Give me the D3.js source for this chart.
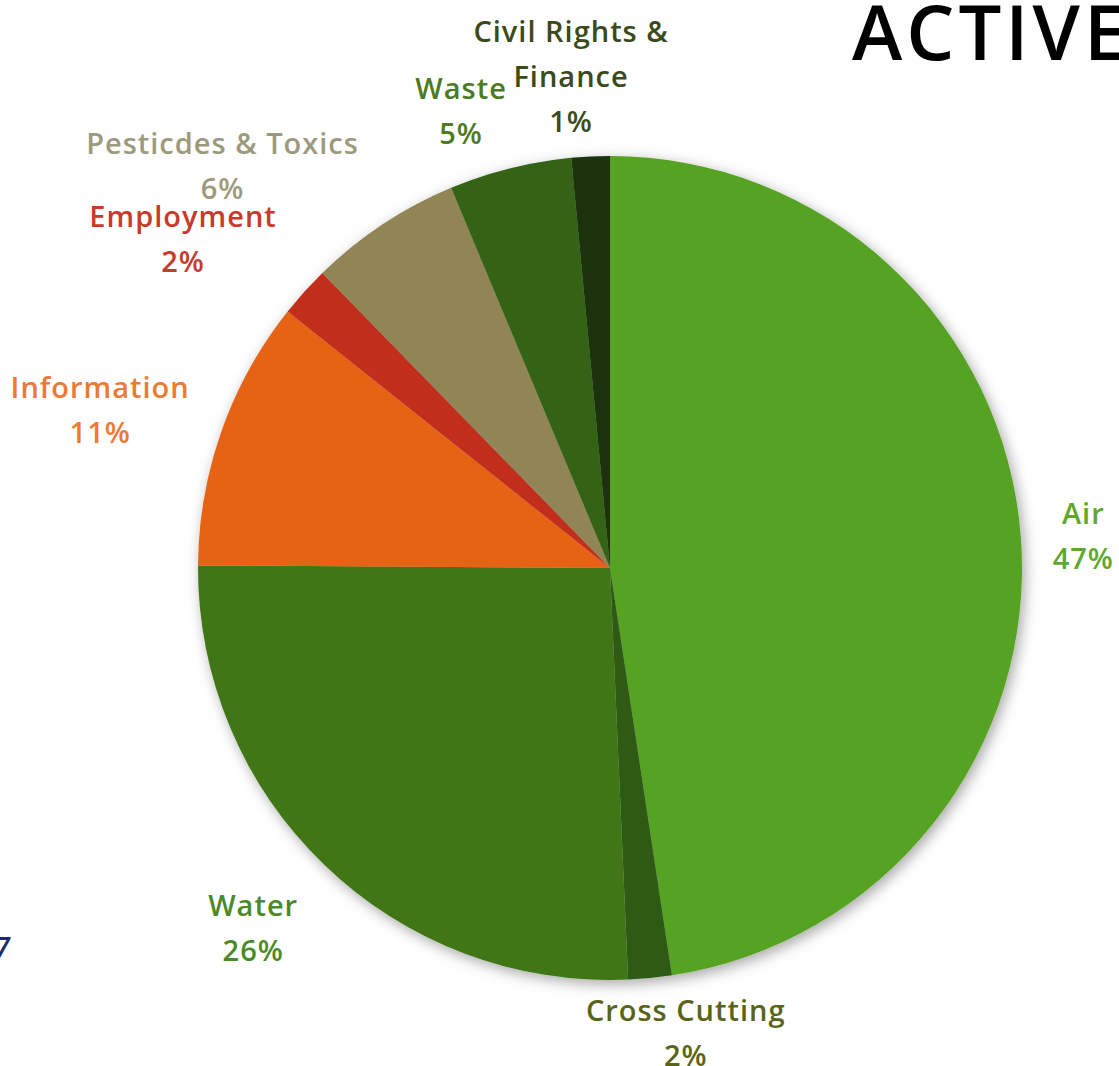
<!DOCTYPE html>
<html>
<head>
<meta charset="utf-8">
<script src="https://cdn.jsdelivr.net/npm/d3@7"></script>
<style>
  body { margin: 0; background: #fff; }
  svg { display: block; }
  text { font-family: "Open Sans", sans-serif; font-weight: 600; }
</style>
</head>
<body>
<script>
const categories = ["Air", "Cross Cutting", "Water", "Information", "Employment", "Pesticdes & Toxics", "Waste", "Civil Rights & Finance"];
const shares = [47.6, 1.7, 25.8, 10.6, 2.0, 6.0, 4.8, 1.5];
const pctLabels = ["47%", "2%", "26%", "11%", "2%", "6%", "5%", "1%"];
const labelLines = [["Air"], ["Cross Cutting"], ["Water"], ["Information"], ["Employment"], ["Pesticdes & Toxics"], ["Waste"], ["Civil Rights &", "Finance"]];

const sliceColors = ["#57a223", "#2d5a14", "#3f7619", "#e66418", "#c22f1a", "#918455", "#346317", "#1c330b"];
const textColors = ["#5ea82c", "#5a6418", "#4b8a26", "#ec7a34", "#c83a2a", "#9c9a7c", "#4c7a22", "#3a4a18"];
// label nudges, px (fine placement like Excel's best fit)
const nudge = [[12, 3], [24, -11], [-26, 15], [-18, 0], [-37, -10], [-74, -5], [-33, 5], [-14, 6]];

const W = 1119, H = 1066;
const cx = 610, cy = 568, R = 412;
const lineH = 45, fontSize = 29;

const svg = d3.select('body').append('svg')
  .attr('width', W)
  .attr('height', H);

// soft shadow round the pie
const defs = svg.append('defs');
const f = defs.append('filter').attr('id', 'shadow')
  .attr('x', '-10%').attr('y', '-10%').attr('width', '120%').attr('height', '120%');
f.append('feDropShadow')
  .attr('dx', 3).attr('dy', 4).attr('stdDeviation', 7)
  .attr('flood-color', '#000').attr('flood-opacity', 0.35);

const data = categories.map((c, i) => ({ name: c, value: shares[i], i }));

const pie = d3.pie().sort(null).value(d => d.value);
const arcs = pie(data);
const arc = d3.arc().innerRadius(0).outerRadius(R);

const g = svg.append('g').attr('transform', `translate(${cx},${cy})`);

g.append('g')
  .attr('filter', 'url(#shadow)')
  .selectAll('path')
  .data(arcs)
  .join('path')
  .attr('fill', d => sliceColors[d.data.i])
  .attr('d', arc);

// labels
const measure = svg.append('text').attr('font-size', fontSize)
  .attr('letter-spacing', 1).attr('visibility', 'hidden');
function textW(s) { measure.text(s); return measure.node().getComputedTextLength(); }

arcs.forEach(d => {
  const i = d.data.i;
  const lines = labelLines[i].concat([pctLabels[i]]);
  const a = (d.startAngle + d.endAngle) / 2;
  const w = d3.max(lines, textW);
  const h = lines.length * lineH;
  const gap = 20;
  const x = Math.sin(a) * (R + gap + w / 2) + nudge[i][0];
  const y = -Math.cos(a) * (R + gap + h / 2) + nudge[i][1];
  const t = g.append('text')
    .attr('text-anchor', 'middle')
    .attr('font-size', fontSize)
    .attr('letter-spacing', 1)
    .attr('fill', textColors[i]);
  lines.forEach((s, k) => {
    t.append('tspan')
      .attr('x', x)
      .attr('y', y + (k - (lines.length - 1) / 2) * lineH)
      .attr('dominant-baseline', 'central')
      .text(s);
  });
});
measure.remove();

// clipped bits of the slide around the chart
svg.append('text')
  .attr('x', 852).attr('y', 60)
  .attr('font-size', 76)
  .attr('font-weight', 700)
  .attr('letter-spacing', 4)
  .attr('fill', '#000')
  .text('ACTIVE');

svg.append('text')
  .attr('x', 10).attr('y', 958)
  .attr('text-anchor', 'end')
  .attr('font-size', 28)
  .attr('font-weight', 700)
  .attr('font-style', 'italic')
  .attr('fill', '#1a2a6e')
  .text('7');
</script>
</body>
</html>
